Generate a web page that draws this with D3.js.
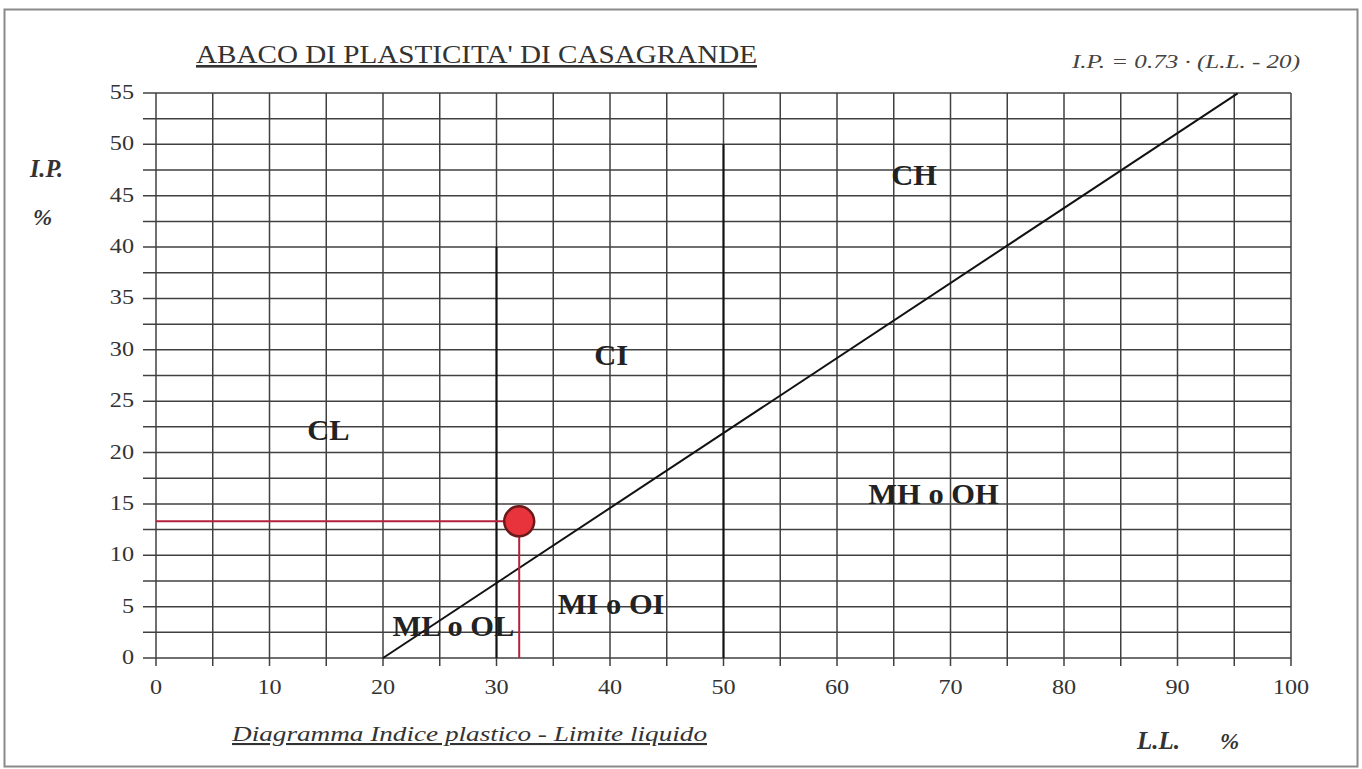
<!DOCTYPE html>
<html><head><meta charset="utf-8">
<script src="https://cdn.jsdelivr.net/npm/d3@7/dist/d3.min.js"></script>
<style>
html,body{margin:0;padding:0;background:#fff;}
svg{display:block;}
text{font-family:"Liberation Serif","Times New Roman",serif;}
</style></head><body>
<script>
// ---- data ----
const xTicks = [0,10,20,30,40,50,60,70,80,90,100];
const yTicks = [0,5,10,15,20,25,30,35,40,45,50,55];
const xGrid = d3.range(0,101,5);
const yGrid = d3.range(0,55.01,2.5);
const aLineLL = [20, 95.3];           // A-line: I.P. = 0.73*(L.L.-20)
const aLineCoef = 0.73;
const boundaryLL = [30, 50];          // vertical boundaries
const boundaryTop = [40, 50];         // their heights (I.P.)
const zoneLabels = ["CL","CI","CH","MH o OH","MI o OI","ML o OL"];
const zoneLL = [15.2, 40.1, 66.8, 68.5, 40.1, 26.2];
const zoneIP = [22.2, 29.5, 47, 16, 5.3, 3.1];
const sampleLL = [32];
const sampleIP = [13.3];

const W = 1362, H = 769;
const svg = d3.select("body").append("svg").attr("width",W).attr("height",H);

function stretch(sel, f){
  sel.each(function(){
    const w = this.getComputedTextLength();
    d3.select(this).attr("textLength", w*f).attr("lengthAdjust","spacingAndGlyphs");
  });
  return sel;
}

// frame
svg.append("rect").attr("x",4.5).attr("y",9.5).attr("width",1353).attr("height",757)
  .attr("fill","none").attr("stroke","#8a8a8a").attr("stroke-width",2);

const x = d3.scaleLinear().domain([0,100]).range([156,1291]);
const y = d3.scaleLinear().domain([0,55]).range([658,93]);

const g = svg.append("g");
// horizontal grid
g.selectAll("line.h").data(yGrid).join("line").attr("class","h")
  .attr("x1",143).attr("x2",x(100)).attr("y1",d=>y(d)).attr("y2",d=>y(d))
  .attr("stroke","#404040").attr("stroke-width",1.5);
// vertical grid
g.selectAll("line.v").data(xGrid).join("line").attr("class","v")
  .attr("x1",d=>x(d)).attr("x2",d=>x(d)).attr("y1",y(55)).attr("y2",y(0)+8)
  .attr("stroke","#404040").attr("stroke-width",1.5);

// boundaries
g.selectAll("line.b").data(boundaryLL).join("line").attr("class","b")
  .attr("x1",d=>x(d)).attr("x2",d=>x(d)).attr("y1",y(0)).attr("y2",(d,i)=>y(boundaryTop[i]))
  .attr("stroke","#111").attr("stroke-width",2);

// A-line
g.append("line").attr("x1",x(aLineLL[0])).attr("y1",y(0))
  .attr("x2",x(aLineLL[1])).attr("y2",y(aLineCoef*(aLineLL[1]-20)))
  .attr("stroke","#111").attr("stroke-width",2);

// y tick labels
stretch(svg.selectAll("text.yt").data(yTicks).join("text").attr("class","yt")
  .attr("x",134).attr("y",d=>y(d)+6).attr("text-anchor","end")
  .attr("font-size",22).attr("fill","#333").text(d=>d), 1.1);
// x tick labels
stretch(svg.selectAll("text.xt").data(xTicks).join("text").attr("class","xt")
  .attr("x",d=>x(d)).attr("y",694).attr("text-anchor","middle")
  .attr("font-size",22).attr("fill","#333").text(d=>d), 1.1);

// zone labels
stretch(svg.selectAll("text.z").data(zoneLabels).join("text").attr("class","z")
  .attr("x",(d,i)=>x(zoneLL[i])).attr("y",(d,i)=>y(zoneIP[i])+10)
  .attr("text-anchor","middle").attr("font-size",29).attr("font-weight","bold")
  .attr("fill","#222").text(d=>d), 1.05);

// sample
const sx = x(sampleLL[0]), sy = y(sampleIP[0]);
svg.append("line").attr("x1",x(0)).attr("x2",sx).attr("y1",sy).attr("y2",sy)
  .attr("stroke","#b5203c").attr("stroke-width",2);
svg.append("line").attr("x1",sx).attr("x2",sx).attr("y1",sy).attr("y2",y(0))
  .attr("stroke","#b5203c").attr("stroke-width",2);
svg.append("circle").attr("cx",sx).attr("cy",sy).attr("r",15)
  .attr("fill","#e8323c").attr("stroke","#6a1a1a").attr("stroke-width",2.5);

// titles
svg.append("text").attr("x",196).attr("y",63).attr("font-size",26).attr("fill","#333")
  .attr("text-decoration","underline").attr("textLength",561).attr("lengthAdjust","spacingAndGlyphs")
  .text("ABACO DI PLASTICITA' DI CASAGRANDE");
svg.append("text").attr("x",1072).attr("y",68)
  .attr("font-size",18).attr("font-style","italic").attr("fill","#444")
  .attr("textLength",228).attr("lengthAdjust","spacingAndGlyphs")
  .text("I.P. = 0.73 · (L.L. - 20)");
svg.append("text").attr("x",30).attr("y",177).attr("font-size",25)
  .attr("font-style","italic").attr("font-weight","bold").attr("fill","#333")
  .attr("textLength",33).attr("lengthAdjust","spacingAndGlyphs").text("I.P.");
svg.append("text").attr("x",33).attr("y",225).attr("font-size",23)
  .attr("font-style","italic").attr("font-weight","bold").attr("fill","#333").text("%");
svg.append("text").attr("x",1137).attr("y",749).attr("font-size",25)
  .attr("font-style","italic").attr("font-weight","bold").attr("fill","#333")
  .attr("textLength",43).attr("lengthAdjust","spacingAndGlyphs").text("L.L.");
svg.append("text").attr("x",1220).attr("y",749).attr("font-size",23)
  .attr("font-style","italic").attr("font-weight","bold").attr("fill","#333").text("%");
svg.append("text").attr("x",232).attr("y",741).attr("font-size",21)
  .attr("font-style","italic").attr("fill","#333").attr("text-decoration","underline")
  .attr("textLength",475).attr("lengthAdjust","spacingAndGlyphs")
  .text("Diagramma  Indice plastico - Limite liquido");
</script>
</body></html>
